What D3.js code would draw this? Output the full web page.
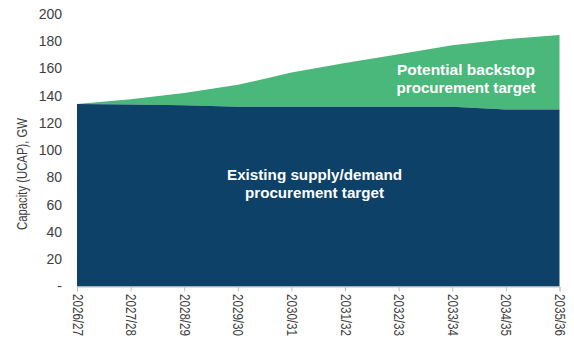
<!DOCTYPE html>
<html>
<head>
<meta charset="utf-8">
<script src="https://cdn.jsdelivr.net/npm/d3@7"></script>
<style>
  html, body { margin: 0; padding: 0; background: #fff; }
  svg { display: block; font-family: Arial, "Liberation Sans", sans-serif; }
</style>
</head>
<body>
<svg id="chart" width="574" height="349"></svg>
<script>
// Delivery years
const years = ["2026/27", "2027/28", "2028/29", "2029/30", "2030/31",
               "2031/32", "2032/33", "2033/34", "2034/35", "2035/36"];
// Existing supply/demand procurement target, GW
const existingTarget = [134, 133.5, 133, 132, 132, 132, 132, 132, 130, 130];
// Total capacity including the potential backstop target, GW
const totalTarget = [134, 137.5, 142, 148, 157, 164, 170.5, 177, 181.5, 184.5];
// Value-axis ticks
const yTicks = [0, 20, 40, 60, 80, 100, 120, 140, 160, 180, 200];

const svg = d3.select("#chart");
const margin = { left: 77, right: 14.5, top: 14, bottom: 62.5 };
const W = 574, H = 349;

const x = d3.scalePoint().domain(years).range([margin.left, W - margin.right]);
const y = d3.scaleLinear().domain([0, 200]).range([H - margin.bottom, margin.top]);

const backstop = years.map((yr, i) => ({ yr, lo: existingTarget[i], hi: totalTarget[i] }));
const existing = years.map((yr, i) => ({ yr, v: existingTarget[i] }));

// Upper band: potential backstop procurement
svg.append("path")
  .datum(backstop)
  .attr("fill", "#49b87a")
  .attr("d", d3.area().x(d => x(d.yr)).y0(d => y(d.lo)).y1(d => y(d.hi)));

// Lower band: existing procurement target
svg.append("path")
  .datum(existing)
  .attr("fill", "#0e4167")
  .attr("d", d3.area().x(d => x(d.yr)).y0(y(0)).y1(d => y(d.v)));

// Category axis
const xAxis = svg.append("g")
  .attr("transform", `translate(0,${y(0)})`)
  .call(d3.axisBottom(x).tickSize(5).tickPadding(4));
xAxis.select(".domain").attr("stroke", "#bfbfbf");
xAxis.selectAll(".tick line").attr("stroke", "#bfbfbf");
xAxis.selectAll(".tick text")
  .attr("fill", "#404040")
  .attr("font-size", 14)
  .attr("transform", "rotate(90)")
  .attr("text-anchor", "start")
  .attr("dy", "0.35em")
  .attr("x", 7.5)
  .attr("y", 0)
  .attr("textLength", 42)
  .attr("lengthAdjust", "spacingAndGlyphs");

// Value axis (labels only)
const yAxis = svg.append("g")
  .attr("transform", `translate(${margin.left},0)`)
  .call(d3.axisLeft(y).tickValues(yTicks).tickSize(0).tickPadding(15)
    .tickFormat(d => d === 0 ? "-" : d));
yAxis.select(".domain").remove();
yAxis.selectAll(".tick text").attr("fill", "#404040").attr("font-size", 14);

// Axis title
svg.append("text")
  .attr("transform", "translate(22,174) rotate(-90)")
  .attr("text-anchor", "middle")
  .attr("dy", "0.35em")
  .attr("fill", "#404040")
  .attr("font-size", 14)
  .attr("textLength", 112)
  .attr("lengthAdjust", "spacingAndGlyphs")
  .text("Capacity (UCAP), GW");

// Band labels
function bandLabel(cx, cy, lines, widths) {
  const t = svg.append("text")
    .attr("text-anchor", "middle")
    .attr("fill", "#ffffff")
    .attr("font-weight", "bold")
    .attr("font-size", 14.5);
  lines.forEach((s, i) => {
    t.append("tspan")
      .attr("x", cx)
      .attr("y", cy + i * 17.7)
      .attr("dy", "0.35em")
      .attr("textLength", widths[i])
      .attr("lengthAdjust", "spacingAndGlyphs")
      .text(s);
  });
}
bandLabel(466, 70, ["Potential backstop", "procurement target"], [138, 139]);
bandLabel(314.5, 175, ["Existing supply/demand", "procurement target"], [175, 139]);
</script>
</body>
</html>
